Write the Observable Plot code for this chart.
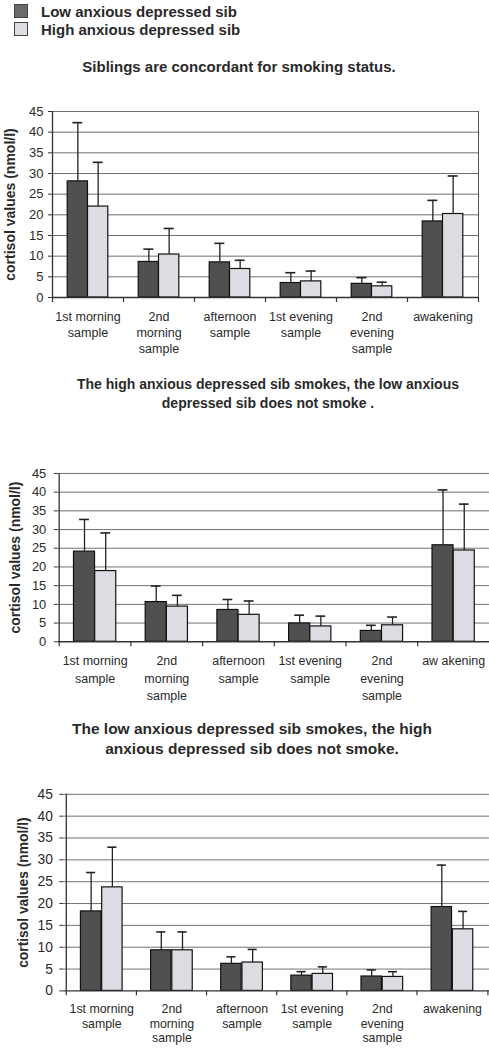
<!DOCTYPE html>
<html>
<head>
<meta charset="utf-8">
<script src="https://cdn.jsdelivr.net/npm/d3@7"></script>
<script src="https://cdn.jsdelivr.net/npm/@observablehq/plot@0.6"></script>
<style>
  html, body { margin: 0; padding: 0; background: #fff; overflow: hidden; }
  #page { position: relative; width: 489px; height: 1050px; overflow: hidden;
          font-family: "Liberation Sans", Arial, sans-serif; color: #2a2a2a; }
  .abs { position: absolute; }
  .legend { left: 14px; font-size: 15px; font-weight: bold; line-height: 18.4px; white-space: nowrap; }
  .legend .sw { display: inline-block; width: 12px; height: 12px; border: 1px solid #444; margin-right: 13px; vertical-align: -1px; }
  .title { width: 500px; text-align: center; font-weight: bold; white-space: nowrap; }
  .chart { left: 0; overflow: hidden; width: 489px; }
</style>
</head>
<body>
<div id="page">
  <div class="abs legend" style="top:3px">
    <div><span class="sw" style="background:#6a6a6a"></span>Low anxious depressed sib</div>
    <div><span class="sw" style="background:#dcdce2"></span>High anxious depressed sib</div>
  </div>
  <div class="abs title" style="left:-11px; top:57.5px; font-size:15px; line-height:18px">Siblings are concordant for smoking status.</div>
  <div class="abs title" style="left:18px; top:375.3px; font-size:14px; line-height:18.4px">The high anxious depressed sib smokes, the low anxious<br>depressed sib does not smoke .</div>
  <div class="abs title" style="left:2px; top:719px; font-size:15.5px; line-height:20px">The low anxious depressed sib smokes, the high<br>anxious depressed sib does not smoke.</div>
  <div class="abs chart" id="c1" style="top:100px"></div>
  <div class="abs chart" id="c2" style="top:460px"></div>
  <div class="abs chart" id="c3" style="top:780px"></div>
</div>
<script>
// ---- data ----
const sampleKeys = ["m1", "m2", "aft", "e1", "e2", "awk"];
const tickLabels = ["1st morning\nsample", "2nd\nmorning\nsample", "afternoon\nsample", "1st evening\nsample", "2nd\nevening\nsample", "awakening"];
const tickLabels2 = ["1st morning\nsample", "2nd\nmorning\nsample", "afternoon\nsample", "1st evening\nsample", "2nd\nevening\nsample", "aw akening"];
const seriesNames = ["Low anxious depressed sib", "High anxious depressed sib"];
const yTicks = [0, 5, 10, 15, 20, 25, 30, 35, 40, 45];
const yLabel = "cortisol values (nmol/l)";

// chart 1: concordant
const c1Low = [28.1, 8.6, 8.5, 3.5, 3.3, 18.4];
const c1LowErr = [42.3, 11.7, 13.1, 6.0, 4.8, 23.5];
const c1High = [22.0, 10.4, 6.9, 3.9, 2.7, 20.2];
const c1HighErr = [32.7, 16.7, 9.0, 6.4, 3.7, 29.4];
// chart 2: high smokes
const c2Low = [24.1, 10.6, 8.5, 4.9, 2.9, 25.8];
const c2LowErr = [32.7, 14.9, 11.3, 7.1, 4.4, 40.6];
const c2High = [18.9, 9.4, 7.2, 4.1, 4.4, 24.4];
const c2HighErr = [29.1, 12.4, 10.9, 6.85, 6.6, 36.8];
// chart 3: low smokes
const c3Low = [18.2, 9.3, 6.2, 3.5, 3.3, 19.2];
const c3LowErr = [27.1, 13.5, 7.8, 4.4, 4.8, 28.8];
const c3High = [23.7, 9.3, 6.5, 3.9, 3.2, 14.1];
const c3HighErr = [32.9, 13.5, 9.5, 5.5, 4.4, 18.2];

const darkFill = "#505050";
const lightFill = "#dcdce3";

function rows(low, lowErr, high, highErr) {
  return sampleKeys.flatMap((k, i) => [
    {cat: k, series: seriesNames[0], value: low[i], err: lowErr[i]},
    {cat: k, series: seriesNames[1], value: high[i], err: highErr[i]}
  ]);
}

function chart(el, data, labels, cfg) {
  const {width, marginLeft, marginRight, marginTop, plotH, marginBottom, barW, labelDx, yFont, xFont, xLine, rightFrame, yPad, xPad} = cfg;
  const bw = (width - marginLeft - marginRight) / sampleKeys.length;
  const low = data.filter(d => d.series === seriesNames[0]);
  const high = data.filter(d => d.series === seriesNames[1]);
  const capHalf = 5;
  const fmt = new Map(sampleKeys.map((k, i) => [k, labels[i]]));
  const marks = [
    Plot.gridY(yTicks.filter(t => t > 0), {stroke: "#707070", strokeOpacity: 1, strokeWidth: 1}),
    Plot.barY(low, {x: "cat", y: "value", fill: darkFill, stroke: "#111", strokeWidth: 1.2,
      insetLeft: bw / 2 - barW, insetRight: bw / 2}),
    Plot.barY(high, {x: "cat", y: "value", fill: lightFill, stroke: "#111", strokeWidth: 1.2,
      insetLeft: bw / 2, insetRight: bw / 2 - barW}),
    Plot.ruleX(low, {x: "cat", y1: "value", y2: "err", dx: -barW / 2, stroke: "#222", strokeWidth: 1.3}),
    Plot.ruleX(high, {x: "cat", y1: "value", y2: "err", dx: barW / 2, stroke: "#222", strokeWidth: 1.3}),
    Plot.tickY(low, {x: "cat", y: "err", stroke: "#222", strokeWidth: 1.6,
      insetLeft: bw / 2 - barW / 2 - capHalf, insetRight: bw / 2 + barW / 2 - capHalf}),
    Plot.tickY(high, {x: "cat", y: "err", stroke: "#222", strokeWidth: 1.6,
      insetLeft: bw / 2 + barW / 2 - capHalf, insetRight: bw / 2 - barW / 2 - capHalf}),
    Plot.ruleY([0], {stroke: "#333", strokeWidth: 1.3}),
    Plot.ruleX([sampleKeys[0]], {dx: -bw / 2, stroke: "#333", strokeWidth: 1.3}),
    Plot.ruleX(sampleKeys, {x: d => d, y1: 0, y2: 0, dx: -bw / 2, insetBottom: -5, stroke: "#333", strokeWidth: 1.2}),
    Plot.ruleX([sampleKeys[sampleKeys.length - 1]], {x: d => d, y1: 0, y2: 0, dx: bw / 2, insetBottom: -5, stroke: "#333", strokeWidth: 1.2}),
    Plot.axisY({ticks: yTicks, tickSize: 4, tickPadding: yPad, fontSize: yFont, label: null, stroke: "#333"}),
    Plot.axisX({tickSize: 0, tickPadding: xPad, fontSize: xFont, lineHeight: xLine, label: null, tickFormat: k => fmt.get(k)}),
    Plot.text([yLabel], {frameAnchor: "left", rotate: -90, dx: labelDx, textAnchor: "middle",
      fontSize: 14, fontWeight: "bold", fill: "#2a2a2a"})
  ];
  if (rightFrame) marks.push(Plot.ruleX([sampleKeys[sampleKeys.length - 1]], {dx: bw / 2, stroke: "#555", strokeWidth: 1}));
  const svg = Plot.plot({
    width, height: marginTop + plotH + marginBottom,
    marginLeft, marginRight, marginTop, marginBottom,
    style: {fontFamily: "'Liberation Sans', Arial, sans-serif", color: "#2a2a2a", background: "transparent", overflow: "visible"},
    x: {type: "band", domain: sampleKeys, padding: 0, axis: null},
    y: {domain: [0, 45], axis: null},
    marks
  });
  document.getElementById(el).appendChild(svg);
}

chart("c1", rows(c1Low, c1LowErr, c1High, c1HighErr), tickLabels,
  {width: 489, marginLeft: 52, marginRight: 11, marginTop: 11, plotH: 186, marginBottom: 63,
   barW: 20.3, labelDx: -42, yFont: 13, xFont: 12.5, xLine: 1.28, rightFrame: true, yPad: 5, xPad: 12});
chart("c2", rows(c2Low, c2LowErr, c2High, c2HighErr), tickLabels2,
  {width: 491, marginLeft: 58, marginRight: 0, marginTop: 13, plotH: 169, marginBottom: 78,
   barW: 21.3, labelDx: -43, yFont: 13, xFont: 12.5, xLine: 1.4, rightFrame: false, yPad: 8, xPad: 11});
chart("c3", rows(c3Low, c3LowErr, c3High, c3HighErr), tickLabels,
  {width: 495, marginLeft: 64, marginRight: 0, marginTop: 14, plotH: 199, marginBottom: 57,
   barW: 21.5, labelDx: -41, yFont: 14, xFont: 12.5, xLine: 1.18, rightFrame: false, yPad: 7, xPad: 12});
</script>
</body>
</html>
